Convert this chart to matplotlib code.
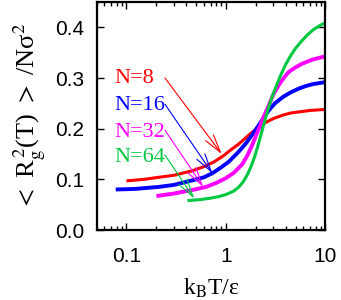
import matplotlib
matplotlib.use("Agg")
import matplotlib.pyplot as plt
import numpy as np
from matplotlib.ticker import LogLocator, FixedLocator, NullFormatter

plt.rcParams['mathtext.fontset'] = 'stix'

# values
t8 = [0.1, 0.15, 0.21, 0.3, 0.46, 0.6, 0.75, 0.92, 1.15, 1.35, 1.6, 1.83, 2.15, 2.49, 3.0,
      3.76, 4.5, 5.37, 7.0, 10]
r8 = [0.097, 0.100, 0.104, 0.108, 0.117, 0.125, 0.134, 0.145, 0.160, 0.170, 0.183, 0.193, 0.203,
      0.212, 0.220, 0.227, 0.231, 0.233, 0.236, 0.238]

t16 = [0.078, 0.12, 0.21, 0.3, 0.46, 0.6, 0.73, 0.9, 1.07, 1.35, 1.6, 1.85, 2.14, 2.4, 2.69,
       3.1, 3.76, 4.5, 5.37, 6.3, 7.5, 10]
r16 = [0.080, 0.081, 0.085, 0.089, 0.098, 0.104, 0.112, 0.124, 0.135, 0.155, 0.172, 0.189, 0.207,
       0.222, 0.236, 0.250, 0.263, 0.272, 0.279, 0.284, 0.288, 0.292]

t32 = [0.2, 0.3, 0.46, 0.63, 0.8, 0.99, 1.2, 1.46, 1.65, 1.83, 2.0, 2.22, 2.45, 2.69, 3.0, 3.39,
       3.8, 4.27, 5.0, 5.8, 7.3, 10]
r32 = [0.067, 0.072, 0.079, 0.085, 0.093, 0.102, 0.113, 0.130, 0.148, 0.167, 0.186, 0.207,
       0.228, 0.246, 0.268, 0.286, 0.300, 0.312, 0.321, 0.328, 0.336, 0.343]

t64 = [0.41, 0.55, 0.68, 0.85, 1.0, 1.2, 1.35, 1.5, 1.65, 1.8, 1.95, 2.1, 2.3, 2.49, 2.69, 2.9,
       3.14, 3.5, 3.94, 4.4, 4.97, 5.7, 6.5, 7.5, 8.85, 10]
r64 = [0.058, 0.060, 0.0625, 0.066, 0.070, 0.077, 0.085, 0.096, 0.110, 0.127, 0.146, 0.167,
       0.195, 0.220, 0.243, 0.262, 0.280, 0.303, 0.325, 0.342, 0.358, 0.372, 0.384, 0.395,
       0.404, 0.409]

labels = ["N=8", "N=16", "N=32", "N=64"]
colors = ["#ff0000", "#0000ff", "#ff00ff", "#00c840"]
widths = [2.2, 2.8, 2.8, 2.2]

# label anchor (data coords, baseline) and arrow from label to curve
lab_xy = [(0.076, 0.290), (0.076, 0.236), (0.076, 0.183), (0.076, 0.134)]
arr_from = [(0.244, 0.300), (0.244, 0.248), (0.244, 0.197), (0.244, 0.148)]
arr_to = [(0.905, 0.150), (0.73, 0.112), (0.59, 0.085), (0.48, 0.062)]

fig = plt.figure(figsize=(3.41, 3.0), dpi=100)
ax = fig.add_axes([0.283, 0.2333, 0.6715, 0.76])

series = [(t8, r8), (t16, r16), (t32, r32), (t64, r64)]
for (x, y), c, lw in zip(series, colors, widths):
    ax.plot(x, y, color=c, lw=lw, solid_capstyle='butt', solid_joinstyle='round')

for i in range(4):
    ax.text(lab_xy[i][0], lab_xy[i][1], labels[i], color=colors[i],
            family='Liberation Serif', fontsize=16, va='baseline', ha='left')
    ax.annotate("", xy=arr_to[i], xytext=arr_from[i],
                arrowprops=dict(arrowstyle="->,head_length=1.3,head_width=0.35",
                                color=colors[i], lw=0.8, mutation_scale=10,
                                shrinkA=0, shrinkB=0))

ax.set_xscale('log')
ax.set_xlim(0.05, 10)
ax.set_ylim(0, 0.45)
ax.xaxis.set_major_locator(FixedLocator([0.1, 1, 10]))
ax.set_xticklabels(["0.1", "1", "10"])
ax.xaxis.set_minor_locator(LogLocator(base=10, subs=np.arange(2, 10)))
ax.xaxis.set_minor_formatter(NullFormatter())
ax.set_yticks([0.0, 0.1, 0.2, 0.3, 0.4])
ax.set_yticklabels(["0.0", "0.1", "0.2", "0.3", "0.4"])

ax.tick_params(which='both', direction='in', top=True, right=True,
               width=1.0, labelsize=15)
ax.tick_params(axis='x', pad=12)
ax.tick_params(axis='y', pad=9)
ax.tick_params(which='major', length=5)
ax.tick_params(which='minor', length=3)
for lab in ax.get_xticklabels() + ax.get_yticklabels():
    lab.set_family('Liberation Sans')
for s in ax.spines.values():
    s.set_linewidth(1.6)

ax.set_xlabel("k$_\\mathrm{B}$T/ε", family='Liberation Serif',
              fontsize=17, labelpad=8)
ax.set_ylabel("$<$ R$_\\mathrm{g}^{\\,2}$(T) $>$ /Nσ$^2$", family='Liberation Serif',
              fontsize=19, labelpad=5)

fig.savefig("out.png", dpi=100)
